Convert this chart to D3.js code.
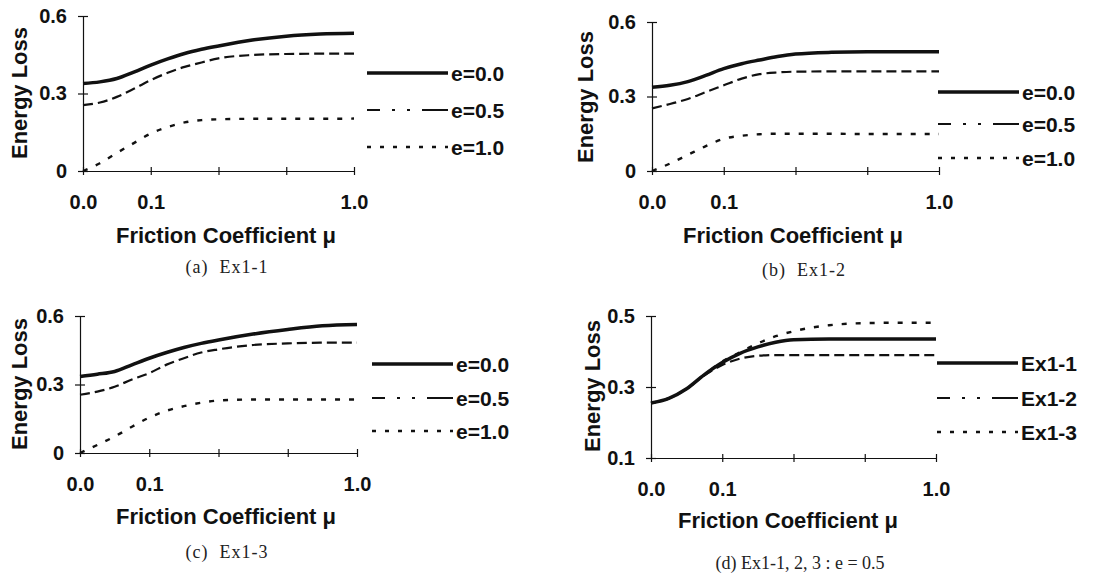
<!DOCTYPE html>
<html>
<head>
<meta charset="utf-8">
<script src="https://cdn.jsdelivr.net/npm/d3@7"></script>
<style>
  body { margin: 0; background: #fff; }
  svg { display: block; }
  .axis path, .axis line { stroke: #111; stroke-width: 1.2; }
  .axis text { font-family: "Liberation Sans", Arial, sans-serif; font-size: 20px; font-weight: bold; fill: #111; }
  .title { font-family: "Liberation Sans", Arial, sans-serif; font-size: 22px; font-weight: bold; fill: #111; }
  .legend-label { font-family: "Liberation Sans", Arial, sans-serif; font-size: 21px; font-weight: bold; fill: #111; }
  .caption { font-family: "Liberation Serif", "DejaVu Serif", serif; font-size: 18px; fill: #222; }
</style>
</head>
<body>
<svg id="chart" width="1094" height="574"></svg>
<script>
// positions along the friction axis (tick index units) and the tick labels
var muPos = [0, 0.25, 0.5, 0.75, 1, 1.25, 1.5, 1.75, 2, 2.5, 3, 3.5, 4];
var xTickLabels = ["0.0", "0.1", "", "", "1.0"];

var eNames = ["e=0.0", "e=0.5", "e=1.0"];
var exNames = ["Ex1-1", "Ex1-2", "Ex1-3"];

// (a) Ex1-1
var ex11_e00 = [0.339, 0.345, 0.358, 0.383, 0.41, 0.434, 0.455, 0.471, 0.484, 0.507, 0.522, 0.53, 0.533];
var ex11_e05 = [0.255, 0.265, 0.287, 0.318, 0.352, 0.38, 0.403, 0.42, 0.436, 0.449, 0.453, 0.454, 0.454];
var ex11_e10 = [0, 0.03, 0.07, 0.108, 0.145, 0.17, 0.188, 0.197, 0.2, 0.202, 0.202, 0.202, 0.203];
// (b) Ex1-2
var ex12_e00 = [0.337, 0.345, 0.36, 0.385, 0.412, 0.432, 0.447, 0.461, 0.471, 0.478, 0.48, 0.48, 0.48];
var ex12_e05 = [0.252, 0.27, 0.29, 0.318, 0.345, 0.372, 0.39, 0.397, 0.4, 0.401, 0.401, 0.401, 0.401];
var ex12_e10 = [0, 0.03, 0.065, 0.1, 0.13, 0.142, 0.148, 0.15, 0.15, 0.15, 0.149, 0.149, 0.149];
// (c) Ex1-3
var ex13_e00 = [0.335, 0.345, 0.357, 0.386, 0.415, 0.44, 0.462, 0.48, 0.495, 0.521, 0.541, 0.557, 0.563];
var ex13_e05 = [0.255, 0.269, 0.29, 0.322, 0.35, 0.387, 0.415, 0.44, 0.454, 0.473, 0.48, 0.483, 0.483];
var ex13_e10 = [0, 0.035, 0.072, 0.115, 0.155, 0.185, 0.205, 0.22, 0.23, 0.234, 0.234, 0.234, 0.234];
// (d) e=0.5 for all three
var cmp_ex11 = [0.255, 0.268, 0.295, 0.335, 0.369, 0.395, 0.413, 0.426, 0.433, 0.435, 0.435, 0.435, 0.435];
var cmp_ex12 = [0.255, 0.268, 0.295, 0.333, 0.362, 0.38, 0.388, 0.39, 0.39, 0.39, 0.39, 0.39, 0.39];
var cmp_ex13 = [0.255, 0.268, 0.295, 0.335, 0.372, 0.398, 0.423, 0.443, 0.457, 0.474, 0.48, 0.481, 0.481];

var yTicks06 = [0, 0.3, 0.6];
var yTicks05 = [0.1, 0.3, 0.5];

// line styles per series slot: solid, dashed, dotted
var strokeW = [3.5, 2.2, 2.4];
var dashes = [null, "10,5", "5,9"];
var legendDashes = [null, "13,12,3,12,3,12,30", "4,9"];

var fmt06 = function(d) { return d === 0 ? "0" : d.toFixed(1); };
var fmt05 = function(d) { return d.toFixed(1); };

var panels = [
	{ caption: "(a)  Ex1-1", capSpacing: 1, names: eNames, series: [ex11_e00, ex11_e05, ex11_e10], yDomain: [0, 0.6], yTicks: yTicks06, yFmt: fmt06,
	  left: 83, right: 354, top: 16, bottom: 171, legX: 367, legY: [73, 110, 147], yTitle: [19, 93], xTitle: [226, 235], cap: [227, 267] },
	{ caption: "(b)  Ex1-2", capSpacing: 1, names: eNames, series: [ex12_e00, ex12_e05, ex12_e10], yDomain: [0, 0.6], yTicks: yTicks06, yFmt: fmt06,
	  left: 652, right: 939, top: 22, bottom: 171, legX: 938, legY: [92, 124, 158], yTitle: [585, 97], xTitle: [793, 235], cap: [804, 270] },
	{ caption: "(c)  Ex1-3", capSpacing: 1, names: eNames, series: [ex13_e00, ex13_e05, ex13_e10], yDomain: [0, 0.6], yTicks: yTicks06, yFmt: fmt06,
	  left: 80, right: 357, top: 316, bottom: 453, legX: 372, legY: [364, 398, 431], yTitle: [19, 384], xTitle: [226, 516], cap: [227, 552] },
	{ caption: "(d) Ex1-1, 2, 3 : e = 0.5", capSpacing: 0, names: exNames, series: [cmp_ex11, cmp_ex12, cmp_ex13], yDomain: [0.1, 0.5], yTicks: yTicks05, yFmt: fmt05,
	  left: 651, right: 936, top: 316, bottom: 458, legX: 937, legY: [363, 398, 432], yTitle: [592, 386], xTitle: [788, 520], cap: [800, 563] }
];

var svg = d3.select("#chart");

panels.forEach(function(p) {
	var g = svg.append("g");

	var x = d3.scaleLinear().domain([0, 4]).range([p.left, p.right]);
	var y = d3.scaleLinear().domain(p.yDomain).range([p.bottom, p.top]);

	// x axis, ticks cross the line
	var xAxis = d3.axisBottom(x)
		.tickValues([0, 1, 2, 3, 4])
		.tickFormat(function(d) { return xTickLabels[d]; })
		.tickSizeOuter(0)
		.tickSizeInner(4);
	var gx = g.append("g")
		.attr("class", "axis")
		.attr("transform", "translate(0," + p.bottom + ")")
		.call(xAxis);
	gx.selectAll(".tick line").attr("y1", -4).attr("y2", 4);
	gx.selectAll(".tick text").attr("y", 24);

	var yAxis = d3.axisLeft(y)
		.tickValues(p.yTicks)
		.tickFormat(p.yFmt)
		.tickSizeOuter(0)
		.tickSizeInner(5);
	var gy = g.append("g")
		.attr("class", "axis")
		.attr("transform", "translate(" + p.left + ",0)")
		.call(yAxis);
	gy.selectAll(".tick line").attr("x1", -5).attr("x2", 5);
	gy.selectAll(".tick text").attr("x", -16);

	var line = d3.line()
		.x(function(d, i) { return x(muPos[i]); })
		.y(function(d) { return y(d); })
		.curve(d3.curveMonotoneX);

	// dotted first so the solid sits on top
	[2, 1, 0].forEach(function(k) {
		g.append("path")
			.datum(p.series[k])
			.attr("d", line)
			.attr("fill", "none")
			.attr("stroke", "#111")
			.attr("stroke-width", strokeW[k])
			.attr("stroke-dasharray", dashes[k]);
	});

	// legend
	p.names.forEach(function(name, k) {
		g.append("line")
			.attr("x1", p.legX).attr("x2", p.legX + 81)
			.attr("y1", p.legY[k]).attr("y2", p.legY[k])
			.attr("stroke", "#111")
			.attr("stroke-width", strokeW[k])
			.attr("stroke-dasharray", legendDashes[k]);
		g.append("text")
			.attr("class", "legend-label")
			.attr("x", p.legX + 84)
			.attr("y", p.legY[k])
			.attr("dominant-baseline", "central")
			.text(name);
	});

	g.append("text")
		.attr("class", "title")
		.attr("transform", "translate(" + p.yTitle[0] + "," + p.yTitle[1] + ") rotate(-90)")
		.attr("text-anchor", "middle")
		.attr("dominant-baseline", "central")
		.text("Energy Loss");

	g.append("text")
		.attr("class", "title")
		.attr("x", p.xTitle[0])
		.attr("y", p.xTitle[1])
		.attr("text-anchor", "middle")
		.attr("dominant-baseline", "central")
		.text("Friction Coefficient \u03bc");

	g.append("text")
		.attr("class", "caption")
		.attr("x", p.cap[0])
		.attr("y", p.cap[1])
		.attr("text-anchor", "middle")
		.attr("dominant-baseline", "central")
		.style("white-space", "pre")
		.style("letter-spacing", p.capSpacing + "px")
		.text(p.caption);
});
</script>
</body>
</html>
